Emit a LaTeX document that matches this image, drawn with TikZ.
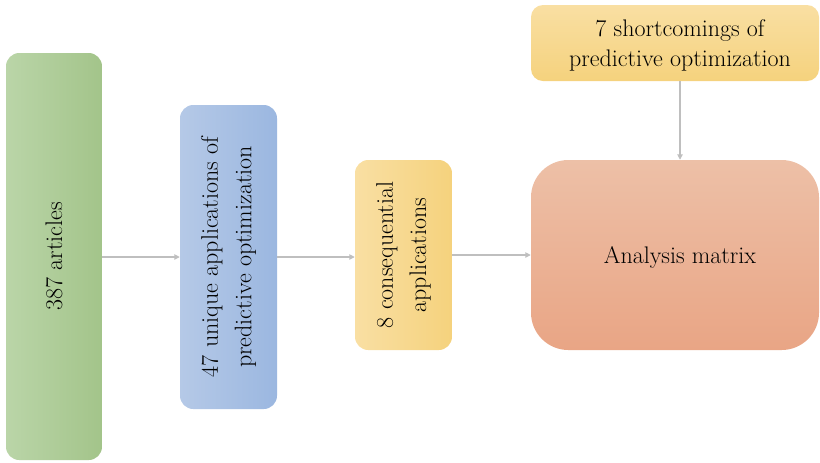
\documentclass[tikz,border=0pt]{standalone}
\usetikzlibrary{arrows.meta}
\definecolor{gL}{RGB}{186,213,168}
\definecolor{gR}{RGB}{163,196,138}
\definecolor{bL}{RGB}{181,201,231}
\definecolor{bR}{RGB}{155,183,224}
\definecolor{yL}{RGB}{249,223,163}
\definecolor{yR}{RGB}{245,210,125}
\definecolor{aT}{RGB}{237,192,167}
\definecolor{aB}{RGB}{233,165,133}
\definecolor{conn}{RGB}{191,191,191}
\begin{document}
\begin{tikzpicture}[x=0.75pt,y=-0.75pt,
  box/.style={rectangle, inner sep=0pt, draw=none},
  txt/.style={font=\fontsize{18}{25}\selectfont, align=center, inner sep=0pt},
  conn/.style={draw=conn, line width=0.8pt, -{Triangle[width=4pt,length=4pt]}}]
\useasboundingbox (0,0) rectangle (820,462);
% boxes
\node[box, rounded corners=10pt, left color=gL, right color=gR, minimum width=72pt, minimum height=305.25pt] (g) at (54,256.5) {};
\node[box, rounded corners=10pt, left color=bL, right color=bR, minimum width=72.75pt, minimum height=228pt] (b) at (228.5,257) {};
\node[box, rounded corners=10pt, left color=yL, right color=yR, minimum width=72.75pt, minimum height=142.5pt] (y) at (403.5,255) {};
\node[box, rounded corners=28pt, top color=aT, bottom color=aB, minimum width=216pt, minimum height=142.5pt] (a) at (675,255) {};
\node[box, rounded corners=9pt, top color=yL, bottom color=yR, minimum width=216pt, minimum height=57pt] (s) at (675,43) {};
% texts
\node[txt, rotate=90] (gt) at (g.center) {387 articles};
\node[txt, rotate=90] (bt) at (b.center) {47 unique applications of\\predictive optimization};
\node[txt, rotate=90] (yt) at (y.center) {8 consequential\\applications};
\node[txt] (at) at (680,257) {Analysis matrix};
\node[txt, font=\fontsize{18}{22.5}\selectfont] (st) at (680,45) {7 shortcomings of\\predictive optimization};
% connectors
\draw[conn] (g.east |- 0,257) -- (b.west |- 0,257);
\draw[conn] (b.east |- 0,257) -- (y.west |- 0,257);
\draw[conn] (y.east |- 0,255) -- (a.west |- 0,255);
\draw[conn] (s.south -| 680,0) -- (a.north -| 680,0);
\end{tikzpicture}
\end{document}
